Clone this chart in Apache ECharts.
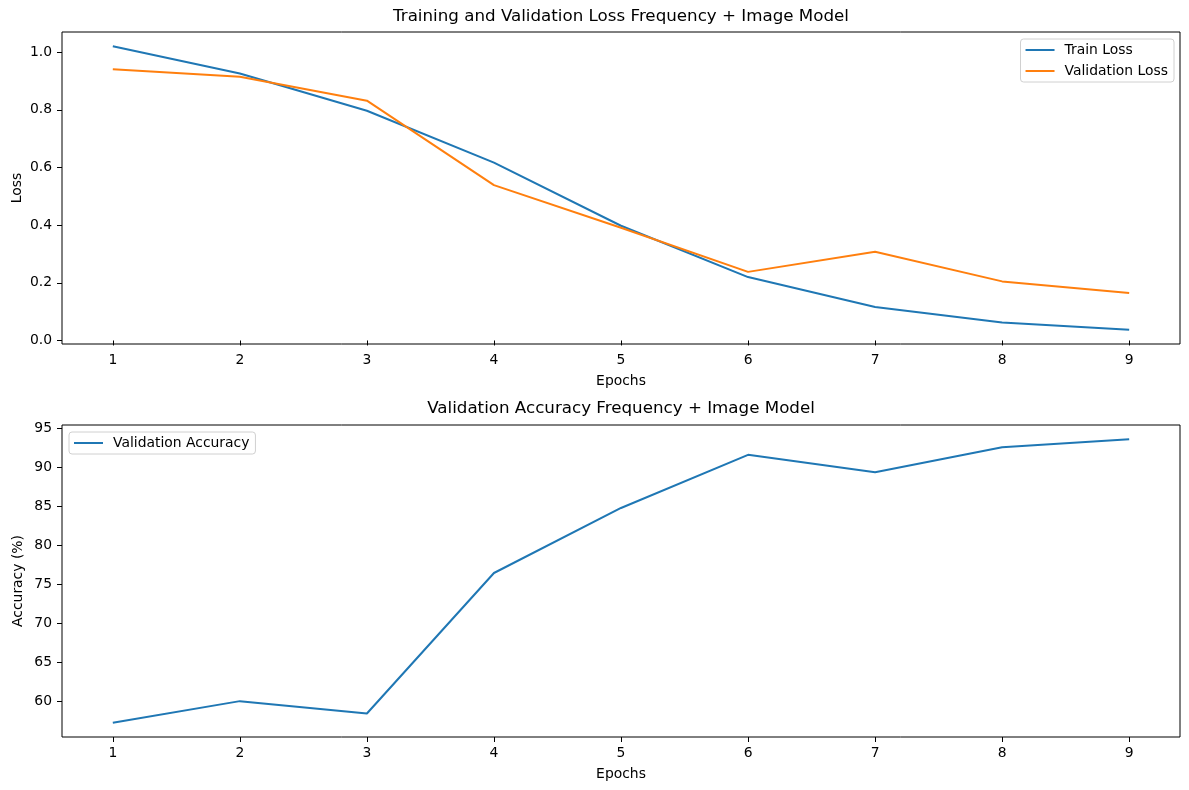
<!DOCTYPE html>
<html>
<head>
<meta charset="utf-8">
<script src="https://cdn.jsdelivr.net/npm/echarts@6/dist/echarts.min.js"></script>
<style>
  html, body { margin: 0; padding: 0; background: #fff; }
  #main { width: 1189px; height: 790px; }
</style>
</head>
<body>
<div id="main"></div>
<script>
// values
var epochs = [1, 2, 3, 4, 5, 6, 7, 8, 9];
var trainLoss = [1.021, 0.926, 0.797, 0.617, 0.398, 0.220, 0.116, 0.062, 0.037];
var valLoss = [0.941, 0.915, 0.832, 0.539, 0.391, 0.238, 0.308, 0.205, 0.165];
var valAcc = [57.26, 60.04, 58.46, 76.47, 84.81, 91.62, 89.40, 92.60, 93.63];
var lossTicks = [0, 0.2, 0.4, 0.6, 0.8, 1.0];
var accTicks = [60, 65, 70, 75, 80, 85, 90, 95];

var myChart = echarts.init(document.getElementById('main'));
var FONT = 'DejaVu Sans';
var BLUE = '#1f77b4', ORANGE = '#ff7f0e';

// matplotlib style 5% padding around the data
function pad(arrs) {
    var all = [].concat.apply([], arrs);
    var lo = Math.min.apply(null, all), hi = Math.max.apply(null, all);
    var m = (hi - lo) * 0.05;
    return [lo - m, hi + m];
}
var lossRange = pad([trainLoss, valLoss]);
var accRange = pad([valAcc]);

function pairs(ys) {
    return epochs.map(function (e, i) { return [e, ys[i]]; });
}

function xAxis(idx) {
    return {
        type: 'value', gridIndex: idx, min: 0.6, max: 9.4,
        name: 'Epochs', nameLocation: 'middle', nameGap: 30, nameMoveOverlap: false,
        nameTextStyle: { color: '#000', fontSize: 13.9, fontFamily: FONT },
        axisLine: { show: false },
        axisTick: { show: true, length: 5, customValues: epochs, lineStyle: { color: '#000', width: 1 } },
        axisLabel: { customValues: epochs, color: '#000', fontSize: 13.9, fontFamily: FONT, margin: 9 },
        splitLine: { show: false }
    };
}

function yAxis(idx, name, range, ticks, fmt, gap) {
    return {
        type: 'value', gridIndex: idx, min: range[0], max: range[1],
        name: name, nameLocation: 'middle', nameGap: gap, nameRotate: 90, nameMoveOverlap: false,
        nameTextStyle: { color: '#000', fontSize: 13.9, fontFamily: FONT },
        axisLine: { show: false },
        axisTick: { show: true, length: 5, customValues: ticks, lineStyle: { color: '#000', width: 1 } },
        axisLabel: { customValues: ticks, color: '#000', fontSize: 13.9, fontFamily: FONT, margin: 10, formatter: fmt },
        splitLine: { show: false }
    };
}

function line(name, idx, ys, color) {
    return {
        name: name, type: 'line', xAxisIndex: idx, yAxisIndex: idx,
        data: pairs(ys), symbol: 'none', silent: true, animation: false,
        lineStyle: { color: color, width: 2 }, itemStyle: { color: color }
    };
}

var legendBase = {
    orient: 'vertical', icon: 'rect', itemWidth: 29, itemHeight: 2, itemGap: 7,
    backgroundColor: '#fff', borderColor: '#d0d0d0', borderWidth: 1, borderRadius: 3,
    padding: [4, 6, 4, 5],
    textStyle: { color: '#000', fontSize: 13.9, fontFamily: FONT, padding: [0, 0, 0, 5] }
};

option = {
    backgroundColor: '#fff',
    title: [
        { text: 'Training and Validation Loss Frequency + Image Model', left: 621, top: 8, textAlign: 'center', padding: 0,
          textStyle: { color: '#000', fontSize: 16.7, fontWeight: 'normal', fontFamily: FONT } },
        { text: 'Validation Accuracy Frequency + Image Model', left: 621, top: 400, textAlign: 'center', padding: 0,
          textStyle: { color: '#000', fontSize: 16.7, fontWeight: 'normal', fontFamily: FONT } }
    ],
    legend: [
        Object.assign({}, legendBase, { data: ['Train Loss', 'Validation Loss'], right: 15, top: 39 }),
        Object.assign({}, legendBase, { data: ['Validation Accuracy'], left: 69, top: 432 })
    ],
    grid: [
        { left: 62, top: 32, width: 1118, height: 312, show: true, borderColor: '#000', borderWidth: 1,
          containLabel: false, outerBoundsMode: 'none' },
        { left: 62, top: 425, width: 1118, height: 312, show: true, borderColor: '#000', borderWidth: 1,
          containLabel: false, outerBoundsMode: 'none' }
    ],
    xAxis: [xAxis(0), xAxis(1)],
    yAxis: [
        yAxis(0, 'Loss', lossRange, lossTicks, function (v) { return v.toFixed(1); }, 38),
        yAxis(1, 'Accuracy (%)', accRange, accTicks, function (v) { return String(v); }, 37)
    ],
    series: [
        line('Train Loss', 0, trainLoss, BLUE),
        line('Validation Loss', 0, valLoss, ORANGE),
        line('Validation Accuracy', 1, valAcc, BLUE)
    ]
};
myChart.setOption(option);
</script>
</body>
</html>
